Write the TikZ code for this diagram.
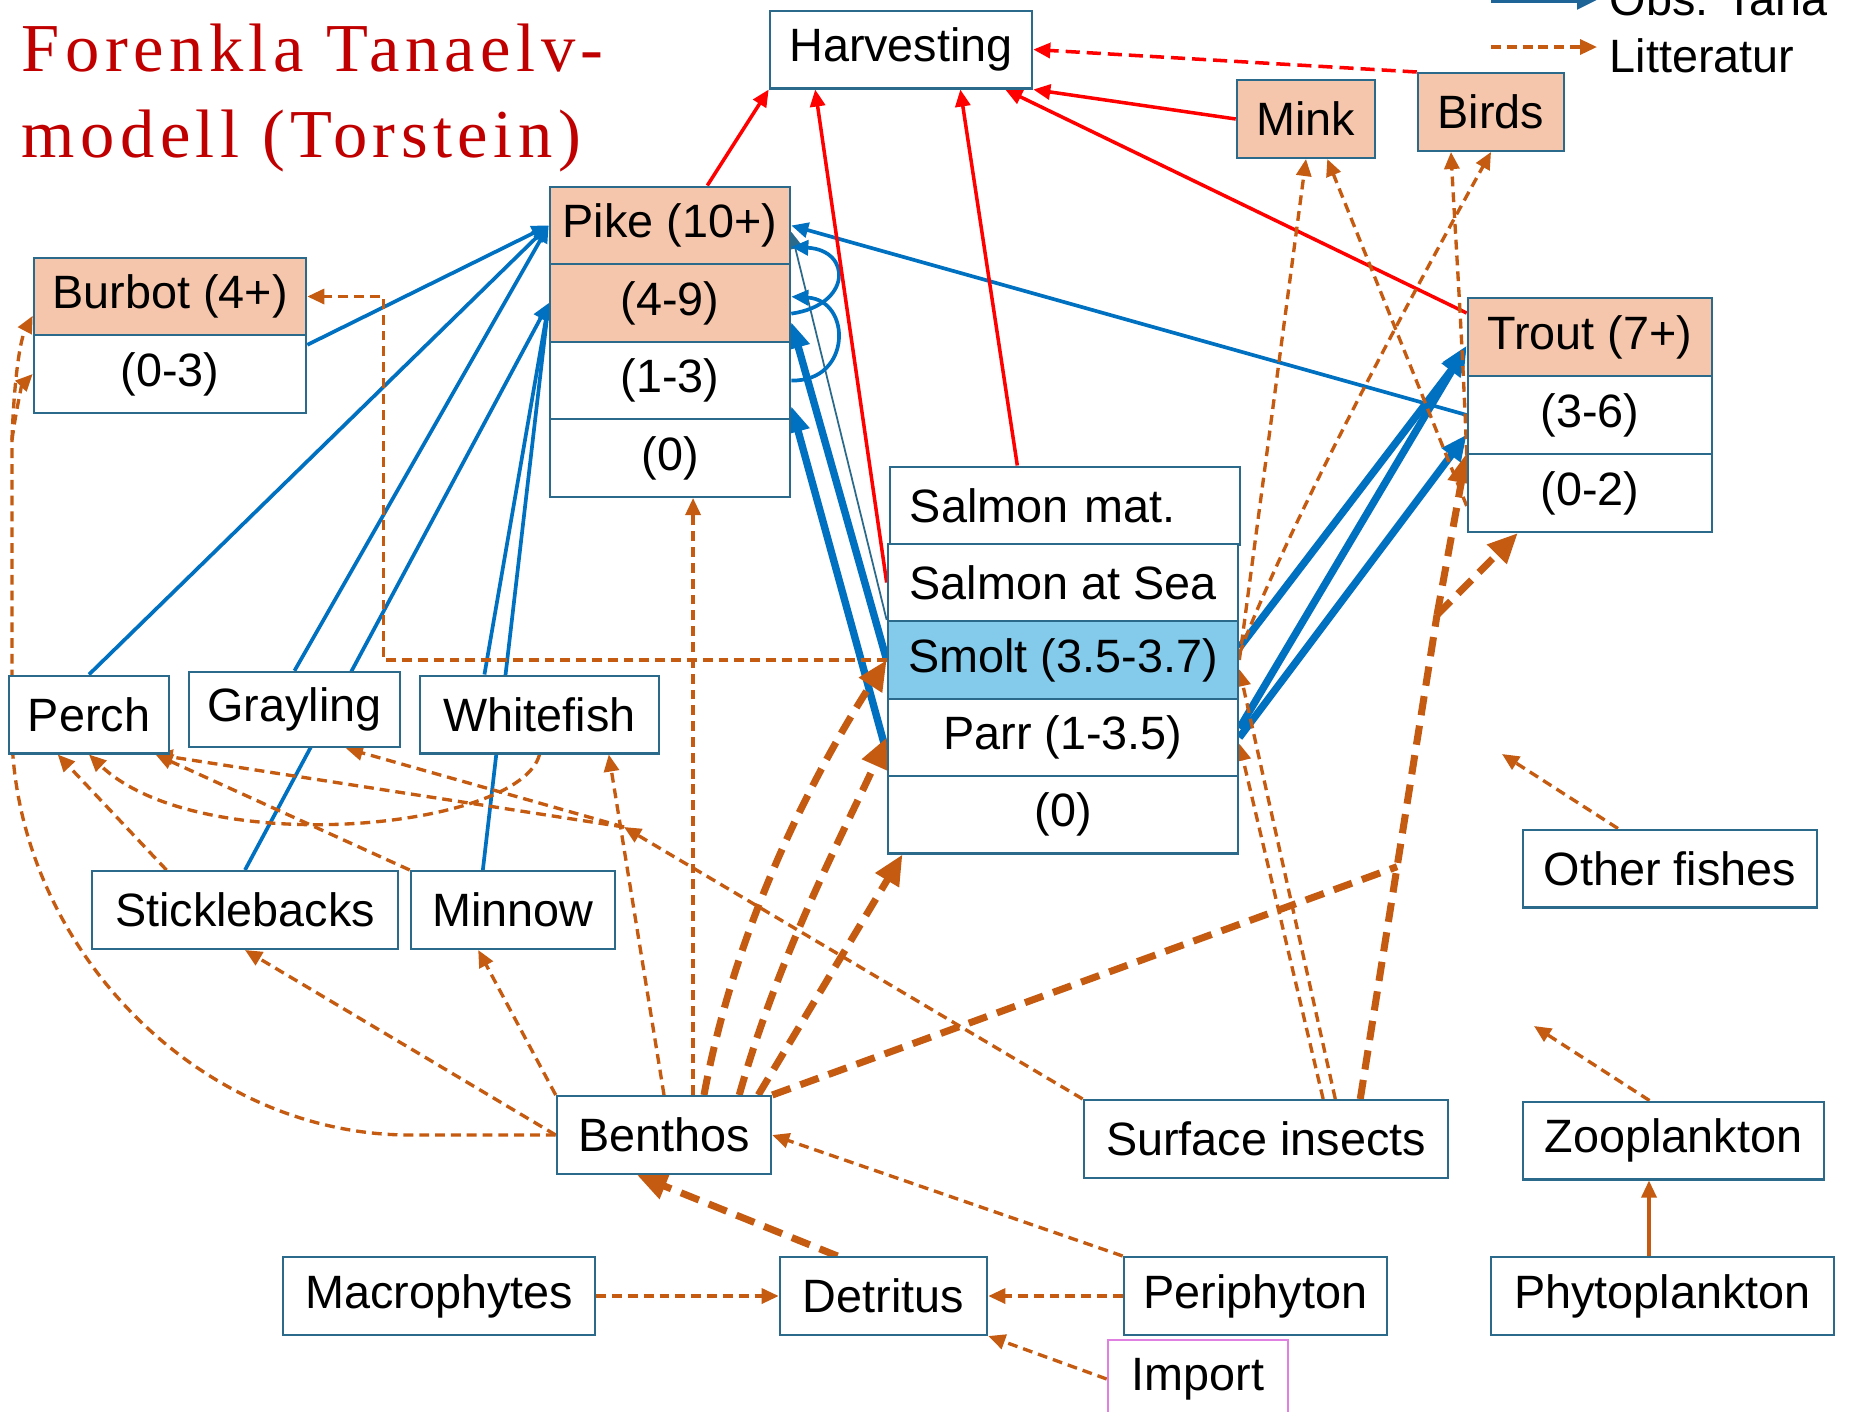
\documentclass[tikz,border=0pt]{standalone}
\usepackage{fontspec}
\setmainfont{Liberation Sans}
\newfontfamily\titlefont[LetterSpace=8]{Liberation Serif}
\usetikzlibrary{arrows.meta,calc,backgrounds}

\definecolor{obsblue}{RGB}{0,112,192}
\definecolor{legblue}{RGB}{30,100,150}
\definecolor{harvred}{RGB}{255,0,0}
\definecolor{litorange}{RGB}{197,90,17}
\definecolor{boxline}{RGB}{44,106,140}
\definecolor{peach}{RGB}{246,198,172}
\definecolor{smoltblue}{RGB}{131,202,235}
\definecolor{importpink}{RGB}{224,128,224}
\definecolor{titlered}{RGB}{192,0,0}

\tikzset{
  box/.style={draw=boxline,line width=0.7pt,fill=white,inner sep=0pt,minimum height=0.775cm,font=\fontsize{13.3}{16}\selectfont},
  agebox/.style={box,fill=peach},
  titletext/.style={anchor=base west,inner sep=0pt,text=titlered,font=\titlefont\fontsize{19.5}{22}\selectfont},
  legtext/.style={anchor=base west,inner sep=0pt,font=\fontsize{13.3}{16}\selectfont},
  obs/.style={draw=obsblue,line width=1.05pt,->},
  obsthick/.style={obs,line width=2.1pt,>={Triangle[length=0.26cm,width=0.22cm]}},
  harv/.style={draw=harvred,line width=1pt,->},
  lit/.style={draw=litorange,line width=0.95pt,dash pattern=on 2.8pt off 1.7pt,->},
  litthick/.style={lit,line width=2pt,dash pattern=on 5.5pt off 3pt,>={Triangle[length=0.3cm,width=0.26cm]}},
}

\begin{document}
\begin{tikzpicture}[x=0.01cm,y=-0.01cm,>={Triangle[length=0.17cm,width=0.15cm]}]
\useasboundingbox (0,0) rectangle (1854,1411);

% title
\node[titletext] (title1) at (21,71) {Forenkla Tanaelv-};
\node[titletext] (title2) at (21,157) {modell (Torstein)};

% legend
\coordinate (legA) at (1491,0); \coordinate (legB) at (1597,0);
\coordinate (legC) at (1491,47); \coordinate (legD) at (1597,47);
\draw[obs,draw=legblue,line width=1.6pt,>={Triangle[length=0.2cm,width=0.18cm]}] (legA) -- (legB);
\node[legtext] (legobs) at (1609,15) {Obs. Tana};
\draw[lit] (legC) -- (legD);
\node[legtext] (leglit) at (1609,72) {Litteratur};

% predators on top
\node[box,minimum width=2.62cm] (harvest) at (901,49.5) {Harvesting};
\node[agebox,minimum width=1.38cm] (mink) at (1306,119) {Mink};
\node[agebox,minimum width=1.46cm] (birds) at (1491,112) {Birds};

% pike
\node[agebox,minimum width=2.4cm] (pikeA) at (670,225.5) {Pike (10+)};
\node[agebox,minimum width=2.4cm] (pikeB) at (670,303) {(4-9)};
\node[box,minimum width=2.4cm] (pikeC) at (670,380.5) {(1-3)};
\node[box,minimum width=2.4cm] (pikeD) at (670,458) {(0)};

% burbot
\node[agebox,minimum width=2.72cm] (burbotA) at (170,296.5) {Burbot (4+)};
\node[box,minimum width=2.72cm] (burbotB) at (170,374) {(0-3)};

% trout
\node[agebox,minimum width=2.44cm] (troutA) at (1590,337) {Trout (7+)};
\node[box,minimum width=2.44cm] (troutB) at (1590,415) {(3-6)};
\node[box,minimum width=2.44cm] (troutC) at (1590,493) {(0-2)};

% salmon
\node[box,minimum width=3.5cm,text width=3.1cm,align=left] (salmat) at (1065,505.5) {Salmon mat.};
\node[box,minimum width=3.5cm] (salsea) at (1063,582.5) {Salmon at Sea};
\node[box,fill=smoltblue,minimum width=3.5cm] (smolt) at (1063,660) {Smolt (3.5-3.7)};
\node[box,minimum width=3.5cm] (parr) at (1063,737.5) {Parr (1-3.5)};
\node[box,minimum width=3.5cm] (salzero) at (1063,814.5) {(0)};

% small fish
\node[box,minimum width=1.6cm] (perch) at (89,714.5) {Perch};
\node[box,minimum width=2.11cm,minimum height=0.75cm] (grayling) at (294.5,709.5) {Grayling};
\node[box,minimum width=2.39cm] (whitefish) at (539.5,714.5) {Whitefish};
\node[box,minimum width=3.06cm] (stickle) at (245,910) {Sticklebacks};
\node[box,minimum width=2.04cm] (minnow) at (513,910) {Minnow};
\node[box,minimum width=2.94cm] (otherfish) at (1670,868.5) {Other fishes};

% food
\node[box,minimum width=2.14cm] (benthos) at (664,1135) {Benthos};
\node[box,minimum width=3.64cm] (surf) at (1266,1139) {Surface insects};
\node[box,minimum width=3.01cm] (zoopl) at (1673.5,1140.5) {Zooplankton};
\node[box,minimum width=3.12cm] (macro) at (439,1296) {Macrophytes};
\node[box,minimum width=2.07cm] (detritus) at (883.5,1296) {Detritus};
\node[box,minimum width=2.63cm] (periph) at (1255.5,1296) {Periphyton};
\node[box,minimum width=3.43cm] (phytopl) at (1662.5,1296) {Phytoplankton};
\node[box,draw=importpink,minimum width=1.8cm] (import) at (1198,1379) {Import};

% free ends and forks
\coordinate (sfork) at (624,827);
\coordinate (lfork) at (12,440);
\coordinate (tcorner) at (1437,615);
\coordinate (zoofree) at (1534,1026);
\coordinate (otherfree) at (1502,754);

\begin{pgfonlayer}{background}
% observed (blue)
\draw[obs] (burbotB.12) -- (pikeA.west);
\draw[obs] (perch.north) -- (pikeA.west);
\draw[obs] (grayling.north) -- (pikeA.west);
\draw[obs] (stickle.north) -- (pikeB.west);
\draw[obs] (whitefish.144) -- (pikeB.west);
\draw[obs] (minnow.127) -- (pikeB.west);
\draw[obs] (troutB.west) -- (pikeA.east);
\draw[obs,draw=boxline,line width=0.5pt] (smolt.north west) -- (pikeA.-3);
\draw[obs] (pikeB.-5) .. controls (852,305) and (852,250) .. (pikeA.-10);
\draw[obs] (pikeC.east) .. controls (852,382) and (852,300) .. (pikeB.3);
\draw[obsthick] (smolt.west) -- (pikeB.-9);
\draw[obsthick] (parr.185) -- (pikeC.-12);
\draw[obsthick] (smolt.4) -- (troutA.186);
\draw[obsthick] (parr.3) -- (troutA.184);
\draw[obsthick] (parr.east) -- (troutB.189);

% harvesting (red)
\draw[harv] (pikeA.47) -- (harvest.south west);
\draw[harv] (salsea.west) -- (harvest.205);
\draw[harv] (salmat.140) -- (harvest.-34);
\draw[harv] (mink.west) -- (harvest.south east);
\draw[harv] (troutA.169) -- (harvest.-21);
\draw[harv,dash pattern=on 4pt off 2pt] (birds.north west) -- (harvest.east);

% literature (orange)
\draw[lit] (benthos.54) -- (benthos.54 |- pikeD.south);
\draw[lit] (smolt.west) -| ([xshift=0.76cm]burbotA.east) -- (burbotA.east);
\draw[lit,-] (benthos.west) -- (410,1135) .. controls (200,1135) and (20,950) .. (12,740) -- (lfork);
\draw[lit] (lfork) .. controls (14,380) and (20,340) .. (burbotA.188);
\draw[lit] (lfork) .. controls (16,410) and (22,385) .. (burbotB.west);
\draw[lit] (whitefish.south) .. controls (520,830) and (200,860) .. (perch.south);
\draw[lit] (stickle.153) -- (perch.232);
\draw[lit] (minnow.north west) -- (perch.-31);
\draw[lit] (surf.north west) -- (sfork);
\draw[lit] (sfork) -- (perch.-31);
\draw[lit] (sfork) -- (grayling.-37);
\draw[lit] (benthos.north) -- (whitefish.-30);
\draw[lit] (benthos.north west) -- (minnow.229);
\draw[lit] (benthos.west) -- (stickle.south);
\draw[litthick] (benthos.45) .. controls (740,900) and (835,740) .. (smolt.west);
\draw[litthick] (benthos.28) .. controls (780,950) and (850,820) .. (parr.west);
\draw[litthick] (benthos.23) -- (salzero.194);
\draw[litthick,-] (benthos.north east) -- ($(surf.23)!0.48!(tcorner)$);
\draw[litthick,-] (surf.23) -- (tcorner);
\draw[litthick] (tcorner) -- (troutC.north west);
\draw[litthick] (tcorner) -- (troutC.209);
\draw[lit] (surf.35) -- (parr.-2);
\draw[lit] (surf.30) -- (smolt.-3);
\draw[lit] (smolt.east) -- (mink.south);
\draw[lit] (smolt.2) .. controls (1290,520) and (1420,280) .. (birds.south);
\draw[lit] (troutC.186) -- (mink.-62);
\draw[lit] (troutB.south west) .. controls (1462,330) and (1455,230) .. (birds.225);
\draw[lit] (macro.east) -- (detritus.west);
\draw[lit] (periph.west) -- (detritus.east);
\draw[lit] (import.west) -- (detritus.south east);
\draw[lit] (periph.north west) -- (benthos.east);
\draw[litthick] (detritus.139) -- (benthos.236);
\draw[lit,dash pattern={}] (phytopl.north -| 1649,0) -- (zoopl.south -| 1649,0);
\draw[lit] ([xshift=-0.24cm]zoopl.north) -- (zoofree);
\draw[lit] ([xshift=-0.52cm]otherfish.north) -- (otherfree);
\end{pgfonlayer}
\end{tikzpicture}
\end{document}
